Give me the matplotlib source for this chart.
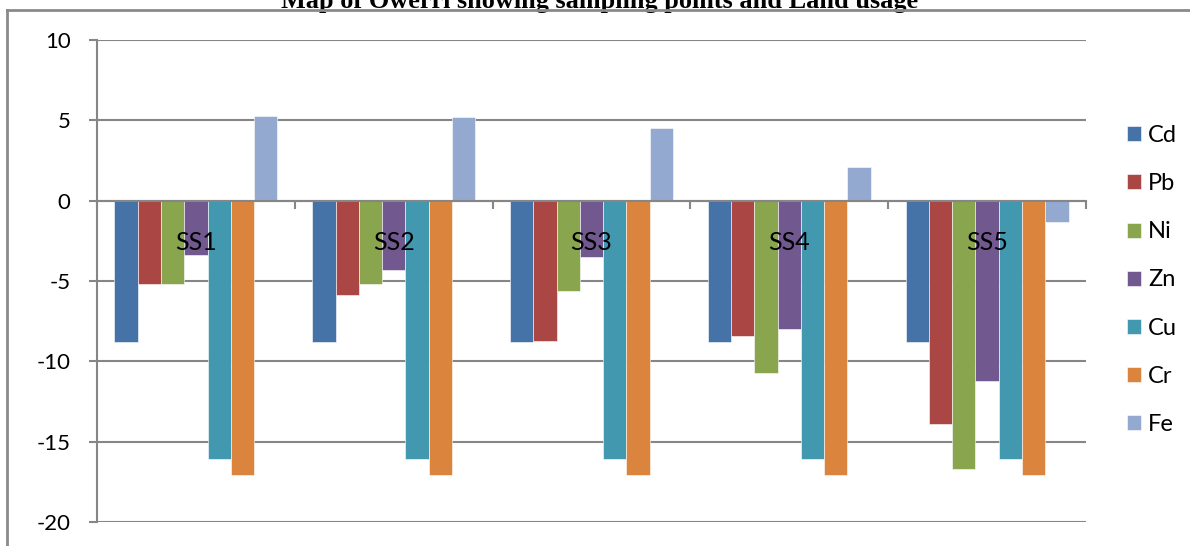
import numpy as np
import matplotlib.pyplot as plt
from matplotlib.lines import Line2D

# sampling sites and metals
sites = ['SS1', 'SS2', 'SS3', 'SS4', 'SS5']
metals = ['Cd', 'Pb', 'Ni', 'Zn', 'Cu', 'Cr', 'Fe']

cd = [-8.8, -8.8, -8.8, -8.8, -8.8]
pb = [-5.2, -5.9, -8.75, -8.4, -13.9]
ni = [-5.2, -5.2, -5.6, -10.75, -16.7]
zn = [-3.4, -4.3, -3.5, -8.0, -11.25]
cu = [-16.1, -16.1, -16.1, -16.1, -16.1]
cr = [-17.1, -17.1, -17.1, -17.1, -17.1]
fe = [5.3, 5.2, 4.5, 2.1, -1.3]

colors = ['#4572A7', '#AA4643', '#89A54E', '#71588F', '#4198AF', '#DB843D', '#93A9CF']
grey = '#868686'

plt.rcParams['font.family'] = ['Lato', 'DejaVu Sans']
plt.rcParams['axes.unicode_minus'] = False

fig = plt.figure(figsize=(11.9, 5.46), dpi=100)
ax = fig.add_axes([97/1190, 1 - 522/546, (1086-97)/1190, (522-40)/546])

series = [cd, pb, ni, zn, cu, cr, fe]
w = 1/8.5
x = np.arange(len(sites))
for j, (vals, c, name) in enumerate(zip(series, colors, metals)):
    ax.bar(x + (j - 3)*w, vals, width=w, color=c, label=name,
           edgecolor='white', linewidth=0.4, zorder=2)

ax.set_xlim(-0.5, 4.5)
ax.set_ylim(-20, 10)
ax.set_yticks([-20, -15, -10, -5, 0, 5, 10])
ax.grid(axis='y', color=grey, linewidth=1.5)
# gridlines under the bars, site labels on top of them
ax.yaxis.set_zorder(0.5)
ax.xaxis.set_zorder(4)

for s in ['top', 'right']:
    ax.spines[s].set_visible(False)
ax.spines['left'].set_color(grey)
ax.spines['left'].set_linewidth(1.5)
ax.spines['bottom'].set_position(('data', 0))
ax.spines['bottom'].set_color(grey)
ax.spines['bottom'].set_linewidth(1.5)
ax.spines['bottom'].set_zorder(3)

# category boundaries as ticks, labels in the middle
ax.set_xticks(np.arange(-0.5, 5, 1))
ax.set_xticklabels([])
ax.set_xticks(x, minor=True)
ax.set_xticklabels(sites, minor=True, fontsize=18)
ax.tick_params(axis='x', which='major', direction='out', length=6, width=1.5, color=grey)
ax.tick_params(axis='x', which='minor', length=0, pad=22)
ax.tick_params(axis='y', direction='out', length=6, width=1.5, color=grey, pad=13, labelsize=16)

ax.legend(loc='center left', bbox_to_anchor=(1127/1190, 1 - 280/546),
          bbox_transform=fig.transFigure, frameon=False, fontsize=17,
          handlelength=0.6, handleheight=0.6, handletextpad=0.3,
          labelspacing=1.15, borderaxespad=0, borderpad=0)

# title and outer frame
fig.text(600/1190, 1 - 8/546, 'Map of Owerri showing sampling points and Land usage',
         ha='center', va='baseline', fontsize=18.9, fontweight='bold',
         family='Liberation Serif')
fig.add_artist(Line2D([7/1190, 7/1190], [0, 1 - 10/546], color='#8a8a8a', lw=2, zorder=5))
fig.add_artist(Line2D([7/1190, 1], [1 - 10/546, 1 - 10/546], color='#8a8a8a', lw=2, zorder=5))

fig.savefig('out.png', dpi=100)
